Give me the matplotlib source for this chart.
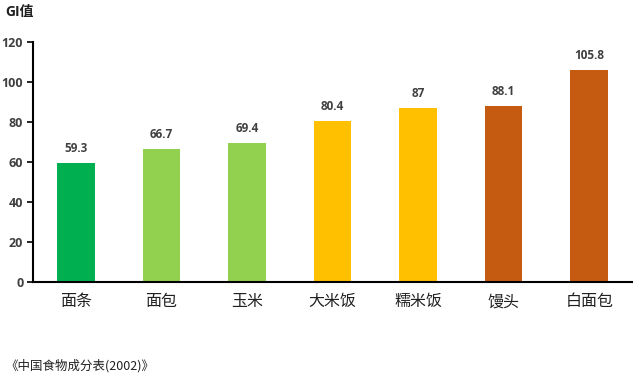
import matplotlib
matplotlib.use("Agg")
import matplotlib.pyplot as plt

plt.rcParams['font.family'] = ['Open Sans', 'Noto Sans CJK SC', 'DejaVu Sans']

categories = ['面条', '面包', '玉米', '大米饭', '糯米饭', '馒头', '白面包']
values = [59.3, 66.7, 69.4, 80.4, 87, 88.1, 105.8]
value_labels = ['59.3', '66.7', '69.4', '80.4', '87', '88.1', '105.8']
colors = ['#00B050', '#92D050', '#92D050', '#FFC000', '#FFC000', '#C55A11', '#C55A11']
yticks = [0, 20, 40, 60, 80, 100, 120]

fig = plt.figure(figsize=(6.4, 3.81), dpi=100)
ax = fig.add_axes([33/640, 99/381, (632-33)/640, (282-42)/381])
x = list(range(len(categories)))
ax.bar(x, values, width=0.44, color=colors, zorder=2)
for xi, v, lab in zip(x, values, value_labels):
    ax.text(xi, v + 4, lab, ha='center', va='bottom', fontsize=8.5,
            fontweight='bold', color='#404040')
ax.set_xlim(-0.5, 6.5)
ax.set_ylim(0, 120)
ax.set_yticks(yticks)
ax.set_yticklabels([str(t) for t in yticks], fontsize=9, fontweight='bold', color='#404040')
ax.set_xticks(x)
ax.set_xticklabels(categories, fontsize=11.5, color='#202020',
                   family=['Noto Sans CJK SC', 'DejaVu Sans'])
ax.tick_params(axis='x', length=0, pad=8)
ax.tick_params(axis='y', length=4, width=1.2, direction='out', pad=3)
for s in ['top', 'right']:
    ax.spines[s].set_visible(False)
ax.spines['left'].set_linewidth(1.5)
ax.spines['bottom'].set_linewidth(1.5)

fig.text(5/640, 1 - 12/381, 'GI值', fontsize=10, fontweight='bold', color='#202020',
         va='center', ha='left', family=['Open Sans', 'Noto Sans CJK SC'])
fig.text(5/640, 1 - 366/381, '《中国食物成分表(2002)》', fontsize=9, color='#202020',
         va='center', ha='left', family=['Noto Sans CJK SC', 'DejaVu Sans'])

fig.savefig('out.png', dpi=100)
